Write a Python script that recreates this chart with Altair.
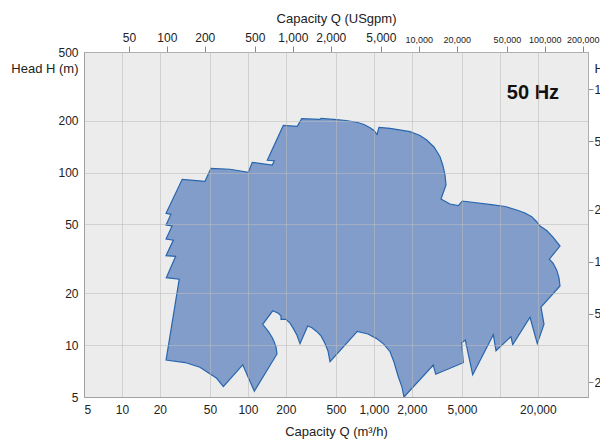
import altair as alt
import pandas as pd

# Pump range outline (capacity m3/h, head m), traced clockwise
q_m3h = [22.4, 28.5, 22.5, 26.7, 22.4, 25.6, 22.4, 25.0, 22.4, 24.5,
         22.4, 30.1, 45.6, 50.9, 72.1, 100.7, 108.3, 156.1, 161.9, 142.5,
         190.9, 246.5, 267, 373, 380, 506, 600, 730, 834, 931,
         1001, 1058, 1097, 1342, 1933, 2321, 2623, 2997, 3345, 3534,
         3665, 3733, 3406, 4015, 4672, 5028, 8860, 10970, 13590, 15810,
         17870, 19330, 20800, 23500, 26380, 29970, 24660, 26380, 28230, 29430,
         29970, 21180, 22370, 19790, 17330, 12630, 12240, 9306, 8860, 6080,
         5312, 4972, 5120, 3092, 2959, 1733, 1670, 1561, 1443, 1342,
         1202, 1052, 897, 738, 448, 432, 409, 380, 351, 322,
         298, 259, 245, 229, 215.7, 200.5, 183, 183, 174.2, 157.3,
         131, 145.1, 155.3, 161, 167, 170.1, 112.4, 90.9, 63.8, 56.5, 41.6, 31.7]
head_m = [8.19, 24.1, 24.6, 32.7, 33.0, 40.6, 41.2, 49.0, 49.7, 57.3,
          58.1, 91.4, 89.0, 105.9, 104.5, 100.4, 114.7, 110.6, 117.2, 117.8,
          187.5, 185.5, 205.2, 203.6, 206.4, 202.5, 200.4, 195.7, 190.0, 182.1,
          175.4, 166.2, 182.5, 180.6, 172.6, 164.0, 154.5, 140.7, 123.6, 109.2,
          96.8, 84.7, 70.3, 65.7, 64.3, 68.4, 64.9, 63.6, 60.7, 58.3,
          55.5, 52.4, 49.0, 46.1, 42.3, 37.5, 31.5, 29.9, 27.2, 24.5,
          22.0, 16.6, 13.2, 10.2, 14.5, 10.05, 11.2, 9.28, 11.5, 6.73,
          10.7, 10.3, 7.90, 6.77, 7.66, 5.0, 5.71, 6.55, 7.98, 9.15,
          10.1, 10.9, 11.6, 12.0, 8.01, 9.24, 10.2, 11.3, 12.0, 12.6,
          12.9, 10.2, 11.4, 12.5, 13.4, 14.1, 14.1, 14.8, 15.3, 15.8,
          13.2, 12.0, 11.1, 10.5, 9.75, 8.88, 5.41, 7.69, 5.74, 6.42, 7.44, 7.92]

x_ticks = [5, 10, 20, 50, 100, 200, 500, 1000, 2000, 5000, 10000, 20000, 50000]
y_ticks = [5, 10, 20, 50, 100, 200, 500]
gpm_ticks = [50, 100, 200, 500, 1000, 2000, 5000, 10000, 20000, 50000, 100000, 200000]
ft_ticks = [20, 50, 100, 200, 500, 1000]

X_DOMAIN = [5, 50000]
Y_DOMAIN = [5, 500]
GPM_PER_M3H = 4.40287
FT_PER_M = 3.28084

label_q = [18300]
label_h = [289]
label_txt = ["50 Hz"]

FONT = "Liberation Sans"
GRID = "#bbbbbb"

poly = pd.DataFrame({"q": q_m3h, "h": head_m, "i": list(range(len(q_m3h)))})
lab = pd.DataFrame({"q": label_q, "h": label_h, "t": label_txt})
sec = pd.DataFrame({
    "gpm": [X_DOMAIN[0] * GPM_PER_M3H, X_DOMAIN[1] * GPM_PER_M3H],
    "ft": [Y_DOMAIN[0] * FT_PER_M, Y_DOMAIN[1] * FT_PER_M],
})

xs = alt.Scale(type="log", domain=X_DOMAIN, nice=False)
ys = alt.Scale(type="log", domain=Y_DOMAIN, nice=False)

x_axis = alt.Axis(
    values=x_ticks, orient="bottom", title="Capacity Q (m³/h)",
    labelExpr="datum.value == 10000 ? '' : format(datum.value, ',')",
    ticks=False, tickSize=0, labelPadding=7,
    titleBaseline="alphabetic", titleY=38,
    grid=True, gridColor=GRID, gridOpacity=0.55, zindex=1,
)
y_axis = alt.Axis(
    values=y_ticks, orient="left", title="Head H (m)",
    labelExpr="format(datum.value, ',')",
    ticks=False, tickSize=0, labelPadding=6,
    grid=True, gridColor=GRID, gridOpacity=0.55, zindex=1,
    titleAngle=0, titleAlign="right", titleBaseline="middle",
    titleX=-6, titleY=16,
)

outline = alt.Chart(poly).mark_line(
    fill="#839dca", stroke="#2766ae", strokeWidth=1.2,
    interpolate="linear-closed", clip=True,
).encode(
    x=alt.X("q:Q", scale=xs, axis=x_axis),
    y=alt.Y("h:Q", scale=ys, axis=y_axis),
    order=alt.Order("i:Q"),
)

hz = alt.Chart(lab).mark_text(
    font=FONT, fontSize=20, fontWeight="bold", color="#111111",
    align="center", baseline="middle",
).encode(
    x=alt.X("q:Q", scale=xs),
    y=alt.Y("h:Q", scale=ys),
    text="t:N",
)

secondary = alt.Chart(sec).mark_point(opacity=0).encode(
    x=alt.X("gpm:Q", scale=alt.Scale(type="log", domain=[X_DOMAIN[0] * GPM_PER_M3H, X_DOMAIN[1] * GPM_PER_M3H], nice=False),
            axis=alt.Axis(values=gpm_ticks, orient="top", title="Capacity Q (USgpm)",
                          labelExpr="format(datum.value, ',')",
                          labelFontSize={"condition": {"test": "datum.value >= 10000", "value": 9}, "value": 12},
                          ticks=True, tickSize=6, labelPadding=2, titlePadding=6, grid=False)),
    y=alt.Y("ft:Q", scale=alt.Scale(type="log", domain=[Y_DOMAIN[0] * FT_PER_M, Y_DOMAIN[1] * FT_PER_M], nice=False),
            axis=alt.Axis(values=ft_ticks, orient="right", title="H (ft)",
                          labelExpr="format(datum.value, ',')",
                          ticks=True, tickSize=5, labelPadding=1, grid=False,
                          titleAngle=0, titleAlign="left", titleBaseline="middle",
                          titleX=6, titleY=16)),
)

chart = alt.layer(
    alt.layer(outline, hz), secondary
).resolve_scale(
    x="independent", y="independent"
).properties(
    width=504, height=345,
    autosize=alt.AutoSizeParams(type="none"),
    padding={"left": 76, "top": 44, "right": 12, "bottom": 48},
    background="white",
).configure_view(
    fill="#ececec", stroke="#a0a0a0", strokeWidth=1,
).configure_axis(
    labelFont=FONT, titleFont=FONT, labelColor="#222222", titleColor="#222222",
    labelFontSize=12, titleFontSize=13, titleFontWeight="normal",
    domainColor="#a0a0a0", tickColor="#888888",
)

chart.save("out.html", embed_options={"renderer": "svg", "actions": False})
